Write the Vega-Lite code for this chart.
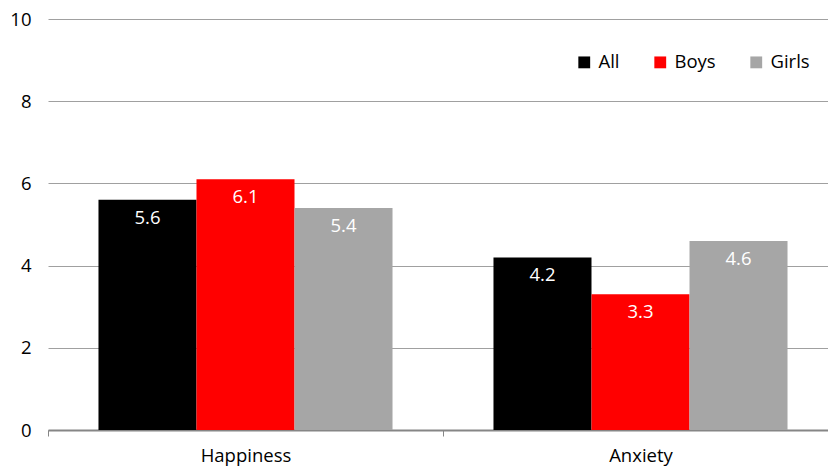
{
  "$schema": "https://vega.github.io/schema/vega-lite/v6.json",
  "autosize": "none",
  "width": 790,
  "height": 411,
  "padding": {"left": 48, "top": 19, "right": 0, "bottom": 39},
  "config": {
    "view": {"stroke": null},
    "font": "Open Sans",
    "axis": {"labelFont": "Open Sans", "labelFontSize": 18.5, "labelColor": "#000000"},
    "legend": {"labelFont": "Open Sans", "labelFontSize": 18.5, "labelColor": "#000000"}
  },
  "data": {
    "values": [
      {"measure": "Happiness", "group": "All", "value": 5.6},
      {"measure": "Happiness", "group": "Boys", "value": 6.1},
      {"measure": "Happiness", "group": "Girls", "value": 5.4},
      {"measure": "Anxiety", "group": "All", "value": 4.2},
      {"measure": "Anxiety", "group": "Boys", "value": 3.3},
      {"measure": "Anxiety", "group": "Girls", "value": 4.6}
    ]
  },
  "encoding": {
    "x": {
      "field": "measure",
      "type": "nominal",
      "sort": ["Happiness", "Anxiety"],
      "scale": {"paddingInner": 0, "paddingOuter": 0},
      "axis": {
        "title": null,
        "labelAngle": 0,
        "labelPadding": 10,
        "domainColor": "#868686",
        "domainWidth": 2,
        "tickColor": "#868686",
        "tickWidth": 1,
        "tickSize": 6,
        "tickBand": "extent"
      }
    },
    "xOffset": {
      "field": "group",
      "type": "nominal",
      "sort": ["All", "Boys", "Girls"],
      "scale": {"paddingInner": 0, "paddingOuter": 0.515}
    },
    "y": {
      "field": "value",
      "type": "quantitative",
      "scale": {"domain": [0, 10]},
      "axis": {
        "title": null,
        "values": [0, 2, 4, 6, 8, 10],
        "domain": false,
        "ticks": false,
        "labelPadding": 17,
        "gridColor": "#a0a0a0",
        "gridWidth": 1
      }
    }
  },
  "layer": [
    {
      "mark": {"type": "bar"},
      "encoding": {
        "color": {
          "field": "group",
          "type": "nominal",
          "sort": ["All", "Boys", "Girls"],
          "scale": {"domain": ["All", "Boys", "Girls"], "range": ["#000000", "#ff0000", "#a6a6a6"]},
          "legend": {
            "title": null,
            "orient": "none",
            "direction": "horizontal",
            "legendX": 527,
            "legendY": 34,
            "symbolType": "square",
            "symbolSize": 140,
            "symbolStrokeWidth": 0,
            "labelOffset": 5,
            "columnPadding": 31
          }
        }
      }
    },
    {
      "mark": {"type": "text", "color": "#ffffff", "fontSize": 18.5, "baseline": "top", "dy": 9},
      "encoding": {
        "text": {"field": "value", "type": "quantitative", "format": ".1f"}
      }
    }
  ]
}
